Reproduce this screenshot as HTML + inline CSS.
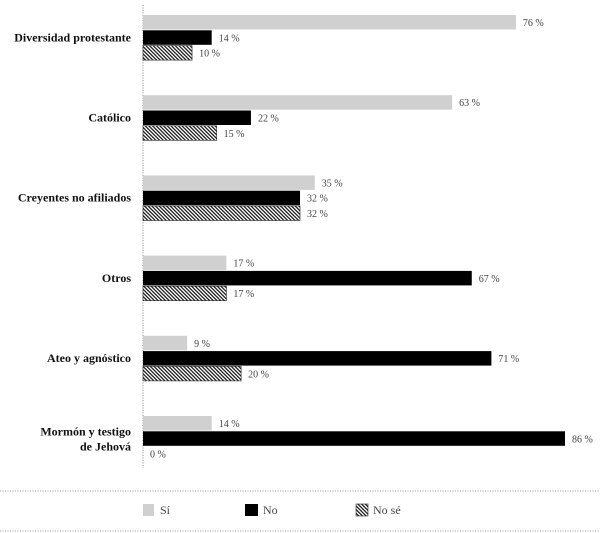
<!DOCTYPE html>
<html><head><meta charset="utf-8"><style>
body{margin:0;background:#fff;width:600px;height:533px;overflow:hidden}
svg{display:block}
text{font-family:"Liberation Serif",serif}
</style></head><body>
<svg id="c" width="600" height="533">
<defs><pattern id="hatch" patternUnits="userSpaceOnUse" width="2.6" height="2.6" patternTransform="rotate(-45)">
<rect width="2.6" height="2.6" fill="#fff"/><rect width="1.3" height="2.6" fill="#222"/></pattern></defs>
<line x1="143" y1="5" x2="143" y2="468" stroke="#888" stroke-dasharray="1,1.5"/>
<line x1="0" y1="491" x2="600" y2="491" stroke="#999" stroke-dasharray="1,1.5"/>
<line x1="0" y1="531" x2="600" y2="531" stroke="#999" stroke-dasharray="1,1.5"/>
<g id="bars"></g>
<g>
<rect x="143" y="504" width="11" height="12" fill="#d0d0d0"/>
<text x="160" y="514" font-size="12" fill="#444">Sí</text>
<rect x="245" y="504" width="13" height="12" fill="#000"/>
<text x="263" y="514" font-size="12" fill="#444">No</text>
<rect x="356" y="504" width="12" height="12" fill="url(#hatch)" stroke="#222" stroke-width="0.6"/>
<text x="373" y="514" font-size="12" fill="#444">No sé</text>
</g>
</svg>
<script>
const categories=[["Diversidad protestante"],["Católico"],["Creyentes no afiliados"],["Otros"],["Ateo y agnóstico"],["Mormón y testigo","de Jehová"]];
const si=[76,63,35,17,9,14];
const no=[14,22,32,67,71,86];
const nose=[10,15,32,17,20,0];
const x0=143, sc=(565-143)/86;
const xs=v=>x0+v*sc;
const g=document.getElementById('bars');
const NS='http://www.w3.org/2000/svg';
const series=[[si,'#d0d0d0','si'],[no,'#000','no'],[nose,'url(#hatch)','nose']];
categories.forEach((cat,i)=>{
  const top=15+i*80.2;
  series.forEach(([arr,fill,key],j)=>{
    const y=top+j*15.3, v=arr[i];
    const r=document.createElementNS(NS,'rect');
    r.setAttribute('x',x0);r.setAttribute('y',y);
    r.setAttribute('width',Math.max(0,xs(v)-x0));r.setAttribute('height',14.5);
    r.setAttribute('fill',fill);
    if(key==='nose'&&v>0){r.setAttribute('stroke','#222');r.setAttribute('stroke-width','0.6');}
    
    
    g.appendChild(r);
    const t=document.createElementNS(NS,'text');
    t.setAttribute('x',xs(v)+7);t.setAttribute('y',y+11);
    t.setAttribute('font-size','10');t.setAttribute('fill','#444');
    t.textContent=v+' %';
    
    
    g.appendChild(t);
  });
  const lbl=document.createElementNS(NS,'text');
  lbl.setAttribute('text-anchor','end');lbl.setAttribute('font-size','12');
  lbl.setAttribute('font-weight','bold');lbl.setAttribute('fill','#111');
  const cy=top+15.3+11-(cat.length-1)*7;
  cat.forEach((line,k)=>{
    const ts=document.createElementNS(NS,'tspan');
    ts.setAttribute('x',131);ts.setAttribute('y',cy+k*15);
    ts.textContent=line;lbl.appendChild(ts);
  });
  
  
  g.appendChild(lbl);
});
</script>
</body></html>
